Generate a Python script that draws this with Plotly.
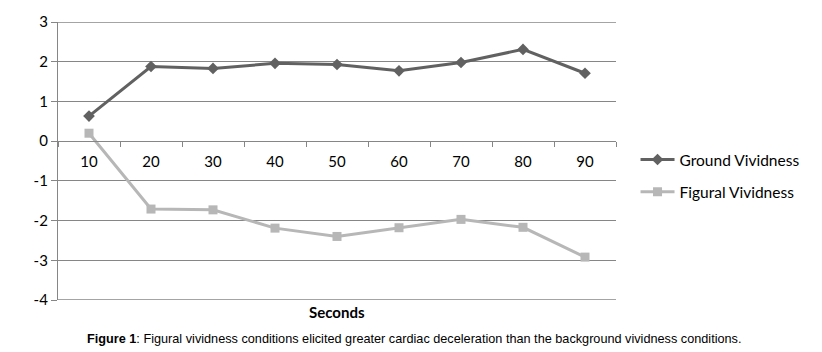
import plotly.graph_objects as go

seconds = ["10", "20", "30", "40", "50", "60", "70", "80", "90"]
ground = [0.63, 1.88, 1.83, 1.96, 1.93, 1.77, 1.98, 2.31, 1.71]
figural = [0.20, -1.71, -1.73, -2.19, -2.40, -2.18, -1.97, -2.17, -2.92]
y_ticks = [3, 2, 1, 0, -1, -2, -3, -4]

fig = go.Figure()
fig.add_trace(go.Scatter(
    x=seconds, y=ground, name="Ground Vividness", mode="lines+markers",
    line=dict(color="#616161", width=3),
    marker=dict(symbol="diamond", size=9, color="#616161"),
    legendgroup="g1",
))
fig.add_trace(go.Scatter(
    x=seconds, y=figural, name="Figural Vividness", mode="lines+markers",
    line=dict(color="#b7b7b7", width=3),
    marker=dict(symbol="square", size=9, color="#b7b7b7"),
    legendgroup="g2",
))

ymin, ymax = min(y_ticks), max(y_ticks)
grid_color = "#868686"
fig.update_layout(
    width=822, height=352,
    margin=dict(l=58, r=206, t=22, b=52),
    paper_bgcolor="white", plot_bgcolor="white",
    font=dict(family="Lato, Carlito, Calibri, sans-serif", size=15, color="#000000"),
    showlegend=True,
    legend=dict(
        x=1.035, y=0.565, xanchor="left", yanchor="top",
        font=dict(size=15.5), tracegroupgap=9, traceorder="grouped",
        itemwidth=34,
    ),
    xaxis=dict(
        type="category", range=[-0.5, 8.5],
        anchor="free", position=(0 - ymin) / (ymax - ymin),
        showline=True, linecolor=grid_color, linewidth=1.3,
        ticks="outside", tickson="boundaries", ticklen=5, tickcolor=grid_color,
        showgrid=False, tickfont=dict(size=15), ticklabelstandoff=7,
    ),
    yaxis=dict(
        range=[ymin, ymax], tickvals=y_ticks, ticktext=[str(v) for v in y_ticks],
        showgrid=True, gridcolor=grid_color, gridwidth=1.3,
        showline=True, linecolor=grid_color, linewidth=1.3,
        zeroline=False, ticks="outside", ticklen=6, tickcolor=grid_color,
        tickfont=dict(size=15),
    ),
)

# edge gridlines (top and bottom) that plotly omits at the range limits
for v in (ymin, ymax):
    fig.add_shape(type="line", xref="paper", yref="y", x0=0, x1=1, y0=v, y1=v,
                  line=dict(color=grid_color, width=1.3), layer="below")

pl, pr, pt, pb = 58, 822 - 206, 22, 352 - 52
def px_to_paper_x(px):
    return (px - pl) / (pr - pl)
def px_to_paper_y(py):
    return (pb - py) / (pb - pt)

fig.update_layout(annotations=[
    dict(text="<b>Seconds</b>", x=0.5, y=px_to_paper_y(312), xref="paper", yref="paper",
         xanchor="center", yanchor="middle", showarrow=False, font=dict(size=15)),
    dict(text="<b>Figure 1</b>: Figural vividness conditions elicited greater cardiac deceleration than the background vividness conditions.",
         x=px_to_paper_x(414), y=px_to_paper_y(339), xref="paper", yref="paper",
         xanchor="center", yanchor="middle", showarrow=False,
         font=dict(family="Liberation Sans, Arial, sans-serif", size=12.7)),
])

fig.write_html("out.html")
